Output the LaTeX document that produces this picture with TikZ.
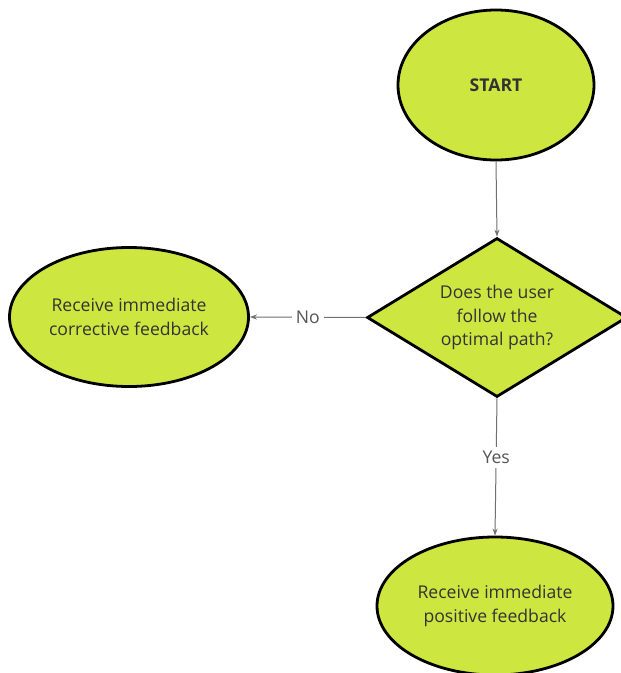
\documentclass[tikz,border=0pt]{standalone}
\usepackage{fontspec}
\setmainfont{Open Sans}
\usetikzlibrary{shapes.geometric,arrows.meta}
\definecolor{lime}{HTML}{CEE640}
\definecolor{txt}{HTML}{333333}
\definecolor{conn}{HTML}{707070}
\definecolor{lbltxt}{HTML}{555555}
\tikzset{
  oval/.style={ellipse, draw=black, line width=2.8pt, fill=lime, text=txt, inner sep=0pt, align=center, font=\fontsize{17.6}{23.5}\selectfont},
  decision/.style={diamond, draw=black, line width=2.8pt, fill=lime, inner sep=0pt},
  dectext/.style={text=txt, align=center, font=\fontsize{17.6}{23.5}\selectfont},
  arrowline/.style={draw=conn, line width=1pt, -{Stealth[length=7pt,width=5pt]}},
  lbl/.style={fill=white, text=lbltxt, font=\fontsize{17.6}{20}\selectfont, inner sep=4pt}
}
\begin{document}
\begin{tikzpicture}[x=1pt,y=-1pt]
\useasboundingbox (0,0) rectangle (621,673);
\clip (0,0) rectangle (621,673);
\fill[white] (0,0) rectangle (621,673);
\node[oval, minimum width=196pt, minimum height=150pt, font=\fontsize{17.6}{23.5}\selectfont\bfseries] (start) at (496,85) {START};
\node[decision, minimum width=260pt, minimum height=159pt] (dec) at (497,317.5) {};
\node[dectext] (dectxt) at (dec.center) {Does the user\\follow the\\optimal path?};
\node[oval, minimum width=239pt, minimum height=139pt] (neg) at (129,317) {Receive immediate\\corrective feedback};
\node[oval, minimum width=236pt, minimum height=138pt] (pos) at (495,606) {Receive immediate\\positive feedback};
\draw[arrowline] (start.south) -- (dec.north);
\draw[arrowline] (dec.west) -- node[lbl] {No} (neg.east);
\draw[arrowline] (dec.south) -- node[lbl, pos=0.43] {Yes} (pos.north);
\end{tikzpicture}
\end{document}
